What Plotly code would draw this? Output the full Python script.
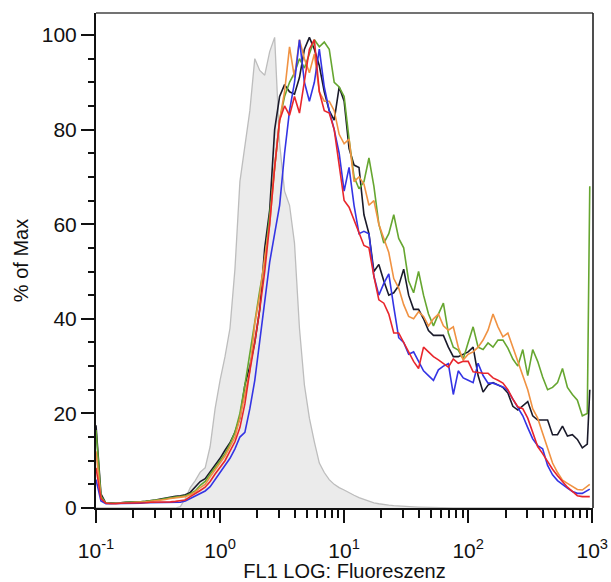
import plotly.graph_objects as go

# Channel positions (FL1 LOG fluorescence), shared by all histograms
fl1 = [0.1, 0.1096, 0.1202, 0.1318, 0.1445, 0.1585, 0.1738, 0.1905, 0.2089, 0.2291,
       0.2512, 0.2754, 0.302, 0.3311, 0.3631, 0.3981, 0.4365, 0.4786, 0.5248, 0.5754,
       0.631, 0.6918, 0.7586, 0.8318, 0.912,
       1.0, 1.096, 1.202, 1.318, 1.445, 1.585, 1.738, 1.905, 2.089, 2.291,
       2.512, 2.754, 3.02, 3.311, 3.631, 3.981, 4.365, 4.786, 5.248, 5.754,
       6.31, 6.918, 7.586, 8.318, 9.12,
       10.0, 10.96, 12.02, 13.18, 14.45, 15.85, 17.38, 19.05, 20.89, 22.91,
       25.12, 27.54, 30.2, 33.11, 36.31, 39.81, 43.65, 47.86, 52.48, 57.54,
       63.1, 69.18, 75.86, 83.18, 91.2,
       100.0, 109.6, 120.2, 131.8, 144.5, 158.5, 173.8, 190.5, 208.9, 229.1,
       251.2, 275.4, 302.0, 331.1, 363.1, 398.1, 436.5, 478.6, 524.8, 575.4,
       631.0, 691.8, 758.6, 831.8, 912.0, 955.0]

isotype = [0, 0, 0, 0, 0, 0, 0, 0, 0, 0,
           0, 0, 0, 0, 0, 0, 0, 0.3, 2.0, 4.3,
           5.8, 7.6, 8.5, 13, 21,
           27, 32, 38, 50.5, 69, 77, 84, 95, 92.5, 91.5,
           96.5, 99.5, 77, 67, 64, 56, 38, 26, 19, 14,
           9.5, 7.5, 6, 5, 4.3,
           3.8, 3.2, 2.7, 2.2, 1.8, 1.4, 1.1, 0.9, 0.7, 0.6,
           0.5, 0.4, 0.35, 0.3, 0.25, 0.2, 0.15, 0.12, 0.1, 0.1,
           0.1, 0.05, 0, 0, 0,
           0, 0, 0, 0, 0, 0, 0, 0, 0, 0,
           0, 0, 0, 0, 0, 0, 0, 0, 0, 0,
           0, 0, 0, 0, 0, 0]

black = [17.5, 3.0, 1.0, 1.0, 1.1, 1.1, 1.2, 1.2, 1.3, 1.3,
         1.4, 1.5, 1.7, 1.9, 2.1, 2.4, 2.5, 2.6, 2.8, 3.3,
         4.5, 5.6, 6.2, 7.6, 9.2,
         10.5, 12.2, 13.8, 16, 19, 26, 30, 35, 42, 55,
         63, 80, 87, 89.5, 88, 87.5, 91, 97, 99.5, 97,
         93.5, 88, 84, 82, 89,
         86, 76, 72.5, 72, 62, 58, 50, 51.5, 48, 45,
         45.5, 47, 50.5, 45, 42, 42, 40, 37.5, 36.5, 36.5,
         36.5, 34, 32, 32, 32.5,
         33, 34, 28, 24.5, 26, 26.5, 26, 25.5, 24.3, 21.5,
         20.7, 21.5, 22.5, 19.5, 18.6, 18.6, 18.6, 15.5, 15.5, 17.3,
         15.2, 15.5, 14.5, 12.7, 13.5, 25]

green = [16.5, 2.5, 1.0, 1.0, 1.1, 1.1, 1.2, 1.2, 1.3, 1.3,
         1.4, 1.5, 1.6, 1.8, 2.0, 2.2, 2.3, 2.4, 2.6, 3.0,
         3.6, 4.8, 5.6, 7.2, 8.5,
         10, 11.5, 13.5, 16, 20, 26, 33, 40, 46, 52,
         62, 72, 82, 87, 90, 92, 95, 93, 96, 99,
         97.5, 98.5, 97, 90, 89,
         87, 78, 70, 67.5, 69, 74, 68, 60, 56, 58,
         62, 57, 55, 48, 45.5, 50, 45, 41, 38.5, 41,
         43.3, 37, 34, 33.4, 31.5,
         35, 38.3, 34, 33.5, 34.9, 34, 35.5, 35.5, 33.8, 31.5,
         30, 33.5, 28, 33.5, 31, 27.7, 25, 25.5, 26.5, 29.5,
         25.5, 24, 22.8, 19.5, 20, 68]

orange = [12, 2.0, 1.0, 0.9, 1.0, 1.0, 1.1, 1.1, 1.2, 1.2,
          1.3, 1.4, 1.5, 1.6, 1.8, 2.0, 2.1, 2.2, 2.4, 2.8,
          3.4, 4.3, 5.0, 6.6, 8.0,
          9.5, 11, 13, 15, 19, 24, 29, 39, 45, 53,
          60, 72, 82, 88, 97.5, 91, 99, 95, 92, 96,
          88, 86, 86, 84, 79,
          77, 78, 69, 70, 68.5, 64, 65, 60, 57, 54,
          48.5, 46.5, 43, 40.5, 40, 41.5, 40.5, 38.5, 40, 41,
          38.5, 37.6, 38.3, 34, 31.3,
          32.5, 33, 34, 35.5, 37.6, 41, 38.3, 36.2, 37, 34,
          31, 28, 25, 21, 19, 15.8, 12.5, 9.5, 7.5, 5.9,
          5.2, 4.6, 3.9, 3.8, 4.5, 5]

blue = [6, 1.5, 0.9, 0.9, 0.9, 1.0, 1.0, 1.0, 1.0, 1.0,
        1.1, 1.1, 1.1, 1.1, 1.1, 1.1, 1.2, 1.2, 1.5, 2.0,
        2.6, 3.1, 3.6, 4.5, 6.0,
        7.5, 9.0, 10.5, 12.5, 15, 16, 21, 27, 35, 44,
        52, 58, 64, 75, 84, 90, 99, 90, 86, 90,
        97, 89, 84, 80, 75,
        67, 72, 64, 58, 58.5, 58, 49, 45, 47.5, 49.5,
        42.5, 36, 35, 32.5, 33, 31, 29, 28, 27, 29.2,
        30, 30.5, 24, 29, 27.5,
        27, 26.5, 30.6, 28, 26.4, 26.4, 26, 25.6, 24.8, 23,
        21, 19.5, 17, 14.6, 13.2, 12.5, 9, 7, 5.8, 4.9,
        4.2, 3.5, 3.1, 3.1, 3.7, 4]

red = [8.5, 2.0, 1.0, 0.9, 0.9, 1.0, 1.0, 1.0, 1.1, 1.1,
       1.1, 1.2, 1.2, 1.2, 1.3, 1.3, 1.4, 1.5, 1.7, 2.4,
       3.0, 3.7, 4.4, 5.6, 7.2,
       8.6, 10, 12, 14, 17, 22, 29, 35, 42, 50,
       60, 72, 82, 85, 83, 87, 83.5, 90, 97, 99,
       88, 84, 83.5, 80, 73,
       65, 63.6, 61, 58, 55.5, 55, 49, 44, 43.3, 41,
       37, 37, 35, 33, 31, 29.5, 34, 33, 32, 31.3,
       30.5, 29.8, 31.5, 30.6, 31,
       31, 28.8, 28.6, 28.5, 28.5, 27.5, 27, 26.4, 25, 23,
       21.4, 21, 19, 16, 13, 11.5, 9.8, 8.2, 6.8, 5.5,
       4.4, 3.5, 2.6, 2.4, 2.4, 2.4]

tick_vals = [0.1, 1, 10, 100, 1000]
tick_text = ["10<sup>-1</sup>", "10<sup>0</sup>", "10<sup>1</sup>", "10<sup>2</sup>", "10<sup>3</sup>"]
y_ticks = [0, 20, 40, 60, 80, 100]

fig = go.Figure()
fig.add_trace(go.Scatter(x=fl1, y=isotype, mode="lines", fill="tozeroy",
                         fillcolor="#ebebeb", line=dict(color="#bdbdbd", width=1.3),
                         showlegend=False))
series = [(black, "#1a1a2a"), (green, "#66a630"), (orange, "#f09242"),
          (blue, "#3434e4"), (red, "#e8262c")]
for vals, col in series:
    fig.add_trace(go.Scatter(x=fl1, y=vals, mode="lines",
                             line=dict(color=col, width=1.6), showlegend=False))

font_family = "Liberation Sans, Arial, sans-serif"
fig.update_layout(
    width=611, height=582,
    margin=dict(l=96, r=18, t=13, b=74, autoexpand=False),
    plot_bgcolor="white", paper_bgcolor="white",
    font=dict(family=font_family, size=20, color="#111"),
    xaxis=dict(type="log", range=[-1, 3.006], tickvals=tick_vals, ticktext=tick_text,
               automargin=False,
               showgrid=False, zeroline=False, showline=True, linecolor="#111",
               linewidth=2, ticks="outside", ticklen=13, tickwidth=1.5,
               tickcolor="#111", ticklabelstandoff=10,
               minor=dict(ticks="outside", ticklen=8, tickwidth=1.5, tickcolor="#111",
                          dtick="D1", showgrid=False),
               tickfont=dict(size=21),
               title=dict(text="FL1 LOG: Fluoreszenz", font=dict(size=20), standoff=5)),
    yaxis=dict(range=[0, 104.65], tickvals=y_ticks, automargin=False,
               showgrid=False, zeroline=False, showline=True, linecolor="#111",
               linewidth=2, ticks="outside", ticklen=13, tickwidth=1.5,
               tickcolor="#111",
               minor=dict(ticks="outside", ticklen=6, tickwidth=1.5, tickcolor="#111",
                          dtick=5, showgrid=False),
               tickfont=dict(size=21),
               title=dict(text="% of Max", font=dict(size=20), standoff=8)),
    shapes=[
        dict(type="line", xref="paper", yref="paper", x0=0, x1=1, y0=1, y1=1,
             line=dict(color="#444", width=1.6)),
        dict(type="line", xref="paper", yref="paper", x0=1, x1=1, y0=0, y1=1,
             line=dict(color="#222", width=1.6)),
    ],
)

fig.write_html("out.html", config={"displayModeBar": False})
